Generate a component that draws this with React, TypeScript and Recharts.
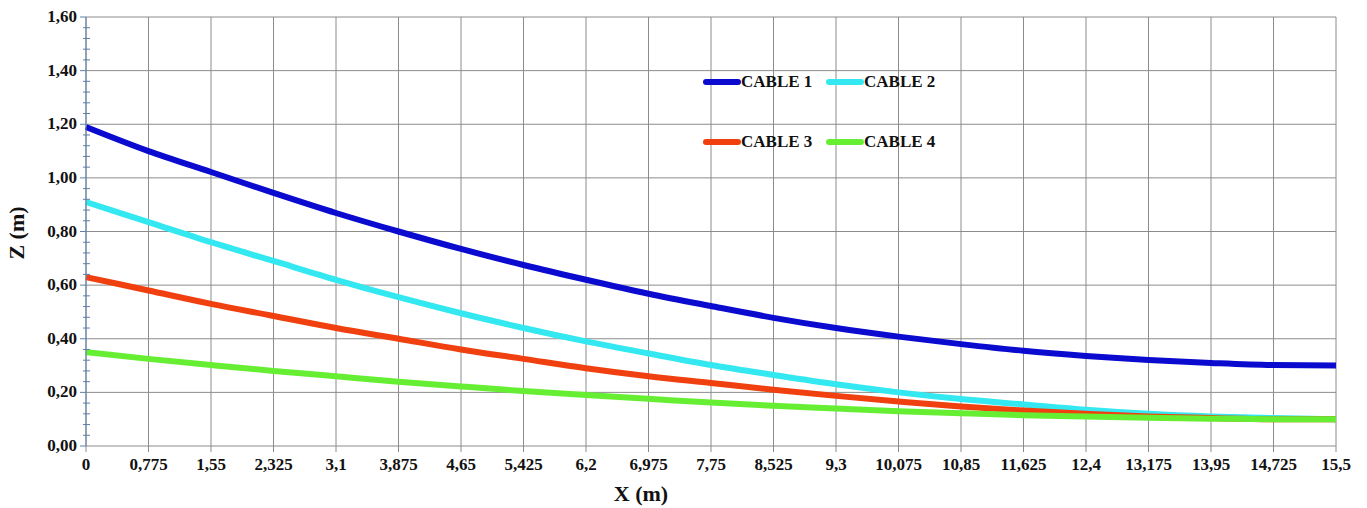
import { LineChart, Line, XAxis, YAxis, CartesianGrid } from 'recharts';

const xValues = [0, 0.775, 1.55, 2.325, 3.1, 3.875, 4.65, 5.425, 6.2, 6.975, 7.75, 8.525, 9.3, 10.075, 10.85, 11.625, 12.4, 13.175, 13.95, 14.725, 15.5];
const cable1 = [1.19, 1.1, 1.022, 0.944, 0.869, 0.8, 0.735, 0.675, 0.62, 0.568, 0.522, 0.478, 0.44, 0.408, 0.38, 0.355, 0.336, 0.321, 0.31, 0.302, 0.3];
const cable2 = [0.91, 0.835, 0.76, 0.69, 0.62, 0.555, 0.495, 0.44, 0.39, 0.345, 0.302, 0.265, 0.23, 0.2, 0.175, 0.155, 0.135, 0.12, 0.11, 0.104, 0.1];
const cable3 = [0.63, 0.58, 0.53, 0.485, 0.44, 0.4, 0.36, 0.325, 0.29, 0.26, 0.235, 0.21, 0.187, 0.166, 0.147, 0.132, 0.12, 0.11, 0.104, 0.1, 0.1];
const cable4 = [0.35, 0.325, 0.302, 0.28, 0.26, 0.24, 0.222, 0.205, 0.19, 0.176, 0.162, 0.15, 0.14, 0.13, 0.122, 0.115, 0.11, 0.105, 0.102, 0.1, 0.1];
// every 0.04; labels only on the 0.2 steps
const yTicks = [0, 0.04, 0.08, 0.12, 0.16, 0.2, 0.24, 0.28, 0.32, 0.36, 0.4, 0.44, 0.48, 0.52, 0.56, 0.6, 0.64, 0.68, 0.72, 0.76, 0.8, 0.84, 0.88, 0.92, 0.96, 1.0, 1.04, 1.08, 1.12, 1.16, 1.2, 1.24, 1.28, 1.32, 1.36, 1.4, 1.44, 1.48, 1.52, 1.56, 1.6];

const seriesNames = ['CABLE 1', 'CABLE 2', 'CABLE 3', 'CABLE 4'];
const colors = ['#0b0bd0', '#33e8f0', '#f0400f', '#66ee33'];

const data = xValues.map((x, i) => ({
  x,
  c1: cable1[i],
  c2: cable2[i],
  c3: cable3[i],
  c4: cable4[i],
}));

const font = '"Liberation Serif", "Times New Roman", serif';
const axisBlue = '#5f7fa8';
const comma = (v: number) => String(v).replace('.', ',');

function YTick(props: any) {
  const { x, y, payload } = props;
  const v = payload.value as number;
  const major = Math.abs(v * 5 - Math.round(v * 5)) < 1e-6;
  if (!major) {
    return <line x1={x - 3} x2={x + 4} y1={y} y2={y} stroke={axisBlue} strokeWidth={1} />;
  }
  return (
    <g>
      <line x1={x - 6} x2={x} y1={y} y2={y} stroke={axisBlue} strokeWidth={1} />
      <text x={x - 9} y={y} dy={5} textAnchor="end" fontFamily={font} fontWeight="bold" fontSize={17} fill="#111">
        {v.toFixed(2).replace('.', ',')}
      </text>
    </g>
  );
}

function LegendItem({ name, color, left, top }: { name: string; color: string; left: number; top: number }) {
  return (
    <div style={{ position: 'absolute', left, top, display: 'flex', alignItems: 'center', fontFamily: font, fontWeight: 'bold', fontSize: 17, color: '#111' }}>
      <div style={{ width: 38, height: 6, borderRadius: 3, background: color }} />
      <span>{name}</span>
    </div>
  );
}

export default function App() {
  return (
    <div style={{ position: 'absolute', left: 0, top: 0, width: 1367, height: 508, background: '#fff' }}>
      <LineChart width={1367} height={508} data={data} margin={{ top: 17, right: 31, left: 10, bottom: 0 }}>
        <CartesianGrid stroke="#8c8c8c" strokeWidth={1} horizontalValues={[0.2, 0.4, 0.6, 0.8, 1.0, 1.2, 1.4, 1.6]} />
        <XAxis
          dataKey="x"
          type="number"
          domain={[0, 15.5]}
          ticks={xValues}
          interval={0}
          tickFormatter={comma}
          height={62}
          axisLine={{ stroke: '#8c8c8c' }}
          tickLine={{ stroke: '#8c8c8c' }}
          tickSize={6}
          tickMargin={6}
          tick={{ fill: '#111', fontFamily: font, fontWeight: 'bold', fontSize: 17 }}
          label={{ content: () => <text x={641} y={501} textAnchor="middle" fontFamily={font} fontWeight="bold" fontSize={22} fill="#111">X (m)</text> }}
        />
        <YAxis
          type="number"
          domain={[0, 1.6]}
          ticks={yTicks}
          interval={0}
          width={76}
          axisLine={{ stroke: axisBlue }}
          tickLine={false}
          tickSize={0}
          tickMargin={0}
          tick={<YTick />}
          label={{ content: () => <text x={24} y={233} transform="rotate(-90 24 233)" textAnchor="middle" fontFamily={font} fontWeight="bold" fontSize={22} fill="#111">Z (m)</text> }}
        />
        <Line type="monotone" dataKey="c1" stroke={colors[0]} strokeWidth={6} dot={false} isAnimationActive={false} />
        <Line type="monotone" dataKey="c2" stroke={colors[1]} strokeWidth={6} dot={false} isAnimationActive={false} />
        <Line type="monotone" dataKey="c3" stroke={colors[2]} strokeWidth={6} dot={false} isAnimationActive={false} />
        <Line type="monotone" dataKey="c4" stroke={colors[3]} strokeWidth={6} dot={false} isAnimationActive={false} />
      </LineChart>
      <LegendItem name={seriesNames[0]} color={colors[0]} left={703} top={72} />
      <LegendItem name={seriesNames[1]} color={colors[1]} left={826} top={72} />
      <LegendItem name={seriesNames[2]} color={colors[2]} left={703} top={132} />
      <LegendItem name={seriesNames[3]} color={colors[3]} left={826} top={132} />
    </div>
  );
}
